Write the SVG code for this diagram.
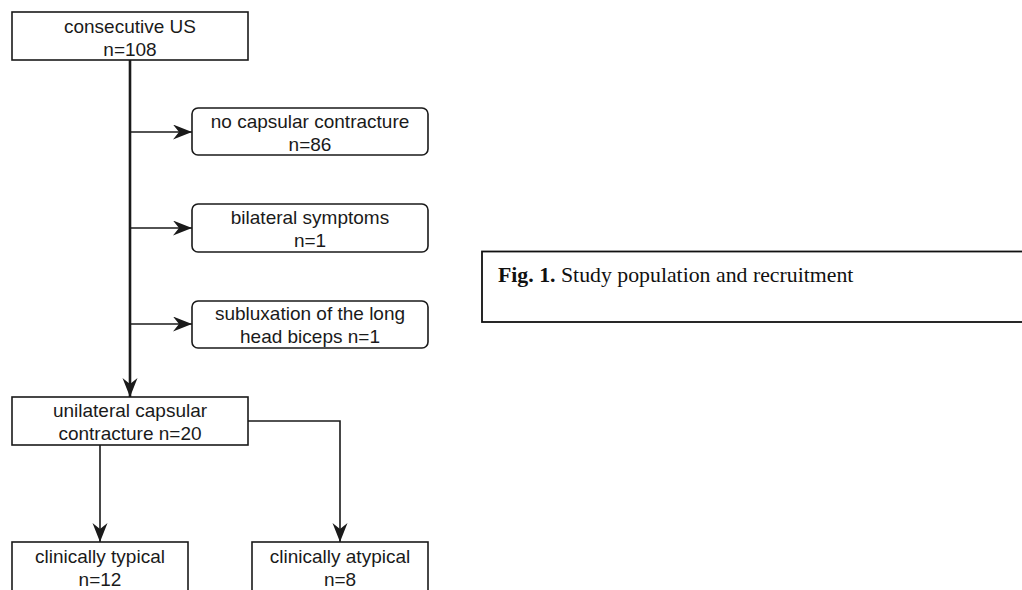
<svg xmlns="http://www.w3.org/2000/svg" width="1022" height="590" viewBox="0 0 1022 590">
<style>
.box{fill:#fff;stroke:#1a1a1a;stroke-width:1.6}
.t{font-family:"Liberation Sans",Arial,sans-serif;font-size:19px;fill:#1a1a1a;text-anchor:middle}
.c{fill:none;stroke:#1a1a1a;stroke-width:1.6}
.main{fill:none;stroke:#1a1a1a;stroke-width:2.6}
.cap{font-family:"Liberation Serif","Times New Roman",serif;font-size:21.8px;fill:#111}
</style>
<defs>
<marker id="ah" markerUnits="userSpaceOnUse" markerWidth="22" markerHeight="18" refX="19" refY="7.5" orient="auto">
<path d="M0,0 L19,7.5 L0,15 L6,7.5 Z" fill="#1a1a1a"/>
</marker>
</defs>
<rect width="1022" height="590" fill="#fff"/>
<g id="connectors">
<path class="main" d="M130,60 V397" marker-end="url(#ah)"/>
<path class="c" d="M130,132 H192" marker-end="url(#ah)"/>
<path class="c" d="M130,228 H192" marker-end="url(#ah)"/>
<path class="c" d="M130,324 H192" marker-end="url(#ah)"/>
<path class="c" d="M100,445 V542" marker-end="url(#ah)"/>
<path class="c" d="M248,421 H340 V542" marker-end="url(#ah)"/>
</g>
<g id="n_consecutive">
<rect class="box" x="12" y="12" width="236" height="48"/>
<text class="t" x="130" y="33">consecutive US</text>
<text class="t" x="130" y="56">n=108</text>
</g>
<g id="n_nocapsular">
<rect class="box" x="192" y="108" width="236" height="47" rx="6"/>
<text class="t" x="310" y="128">no capsular contracture</text>
<text class="t" x="310" y="151">n=86</text>
</g>
<g id="n_bilateral">
<rect class="box" x="192" y="204" width="236" height="48" rx="6"/>
<text class="t" x="310" y="224">bilateral symptoms</text>
<text class="t" x="310" y="247">n=1</text>
</g>
<g id="n_subluxation">
<rect class="box" x="192" y="301" width="236" height="47" rx="6"/>
<text class="t" x="310" y="320">subluxation of the long</text>
<text class="t" x="310" y="343">head biceps n=1</text>
</g>
<g id="n_unilateral">
<rect class="box" x="12" y="397" width="236" height="48"/>
<text class="t" x="130" y="417">unilateral capsular</text>
<text class="t" x="130" y="440">contracture n=20</text>
</g>
<g id="n_typical">
<rect class="box" x="12" y="542" width="176" height="60"/>
<text class="t" x="100" y="563">clinically typical</text>
<text class="t" x="100" y="586">n=12</text>
</g>
<g id="n_atypical">
<rect class="box" x="252" y="542" width="176" height="60"/>
<text class="t" x="340" y="563">clinically atypical</text>
<text class="t" x="340" y="586">n=8</text>
</g>
<g id="caption">
<rect x="482" y="251.5" width="560" height="70.5" fill="#fff" stroke="#111" stroke-width="1.8"/>
<text class="cap" x="498" y="282"><tspan font-weight="bold">Fig. 1.</tspan> Study population and recruitment</text>
</g>
</svg>
